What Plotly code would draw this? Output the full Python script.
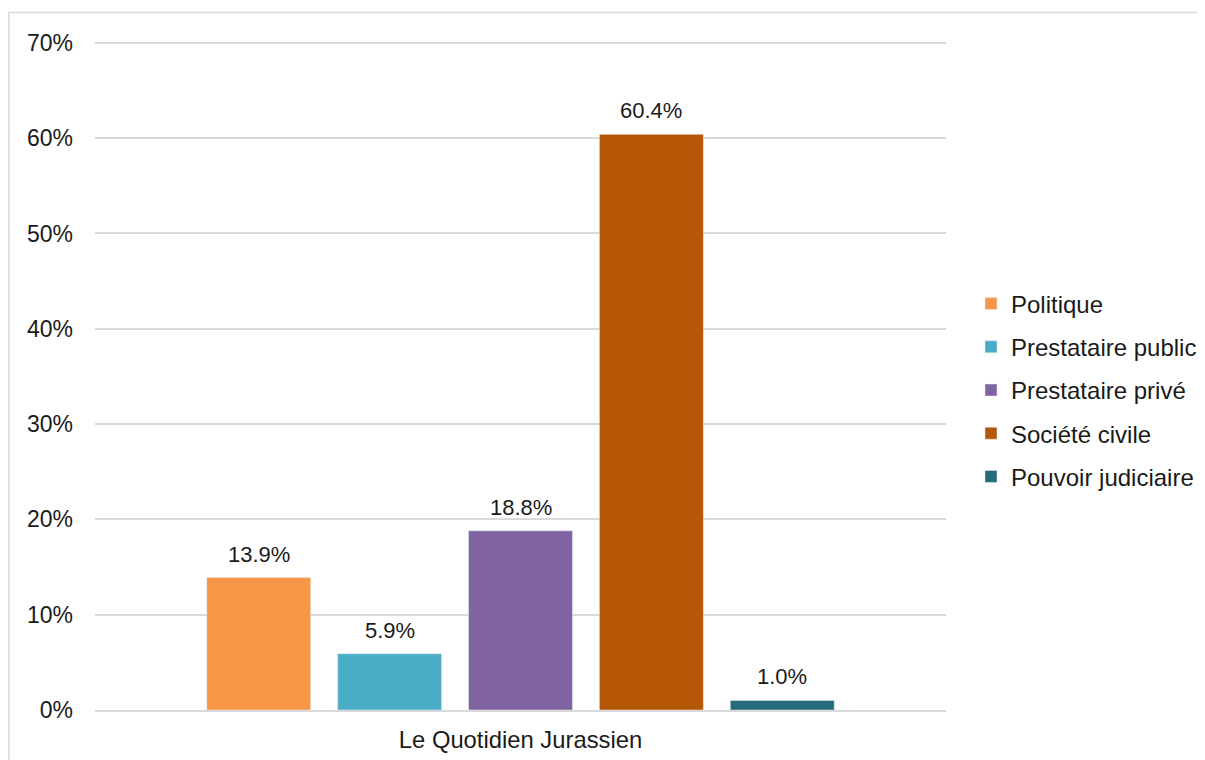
import plotly.graph_objects as go

categories = ["Le Quotidien Jurassien"]
series_names = ["Politique", "Prestataire public", "Prestataire privé", "Société civile", "Pouvoir judiciaire"]
series_values = [13.9, 5.9, 18.8, 60.4, 1.0]
series_colors = ["#F79646", "#4BACC6", "#8064A2", "#B65708", "#276A7B"]
y_ticks = [0, 10, 20, 30, 40, 50, 60, 70]
y_tick_labels = [f"{t}%" for t in y_ticks]

FONT = "Liberation Sans, Arial, sans-serif"
TXT = "#1a1a1a"
BARGAP = 0.231
BARGROUPGAP = 0.206
Y_MAX = 70.3

fig = go.Figure()
for i, (name, val, col) in enumerate(zip(series_names, series_values, series_colors)):
    fig.add_trace(go.Bar(
        x=categories, y=[val], name=name, marker_color=col,
        legendgroup=name, hoverinfo="skip",
    ))

n = len(series_names)
slot = (1 - BARGAP) / n
for i, val in enumerate(series_values):
    xpos = (i - (n - 1) / 2) * slot
    fig.add_annotation(
        x=xpos, y=val, xref="x", yref="y", text=f"{val:.1f}%",
        showarrow=False, yanchor="bottom", yshift=9,
        font=dict(family=FONT, size=22, color=TXT),
    )

W, H = 1205, 760
ml, mr, mt, mb = 87, 266, 32, 58
pw, ph = W - ml - mr, H - mt - mb

fig.add_shape(
    type="rect", xref="paper", yref="paper",
    x0=(0.8 - ml) / pw, x1=(1300 - ml) / pw,
    y0=(H - mb - 900) / ph, y1=(H - mb - 4.5) / ph,
    line=dict(color="#d9d9d9", width=1.5), layer="below",
)

fig.update_layout(
    width=W, height=H,
    margin=dict(l=ml, r=mr, t=mt, b=mb),
    paper_bgcolor="white", plot_bgcolor="white",
    barmode="group", bargap=BARGAP, bargroupgap=BARGROUPGAP,
    font=dict(family=FONT, size=22, color=TXT),
    showlegend=True,
    legend=dict(
        x=(963 - ml) / pw, xanchor="left",
        y=(H - mb - 382) / ph, yanchor="middle",
        font=dict(family=FONT, size=24, color=TXT),
        tracegroupgap=9, bgcolor="rgba(0,0,0,0)",
    ),
    xaxis=dict(
        showgrid=False, showline=True, linecolor="#d9d9d9", linewidth=1.5,
        ticks="", ticklabelstandoff=8, fixedrange=True,
        tickfont=dict(family=FONT, size=23.8, color=TXT),
    ),
    yaxis=dict(
        range=[0, Y_MAX], tickvals=y_ticks, ticktext=y_tick_labels,
        showgrid=True, gridcolor="#d9d9d9", gridwidth=1.5,
        zeroline=False, showline=False, ticks="", ticklabelstandoff=21,
        fixedrange=True,
        tickfont=dict(family=FONT, size=23, color=TXT),
    ),
)

fig.write_html("out.html")
